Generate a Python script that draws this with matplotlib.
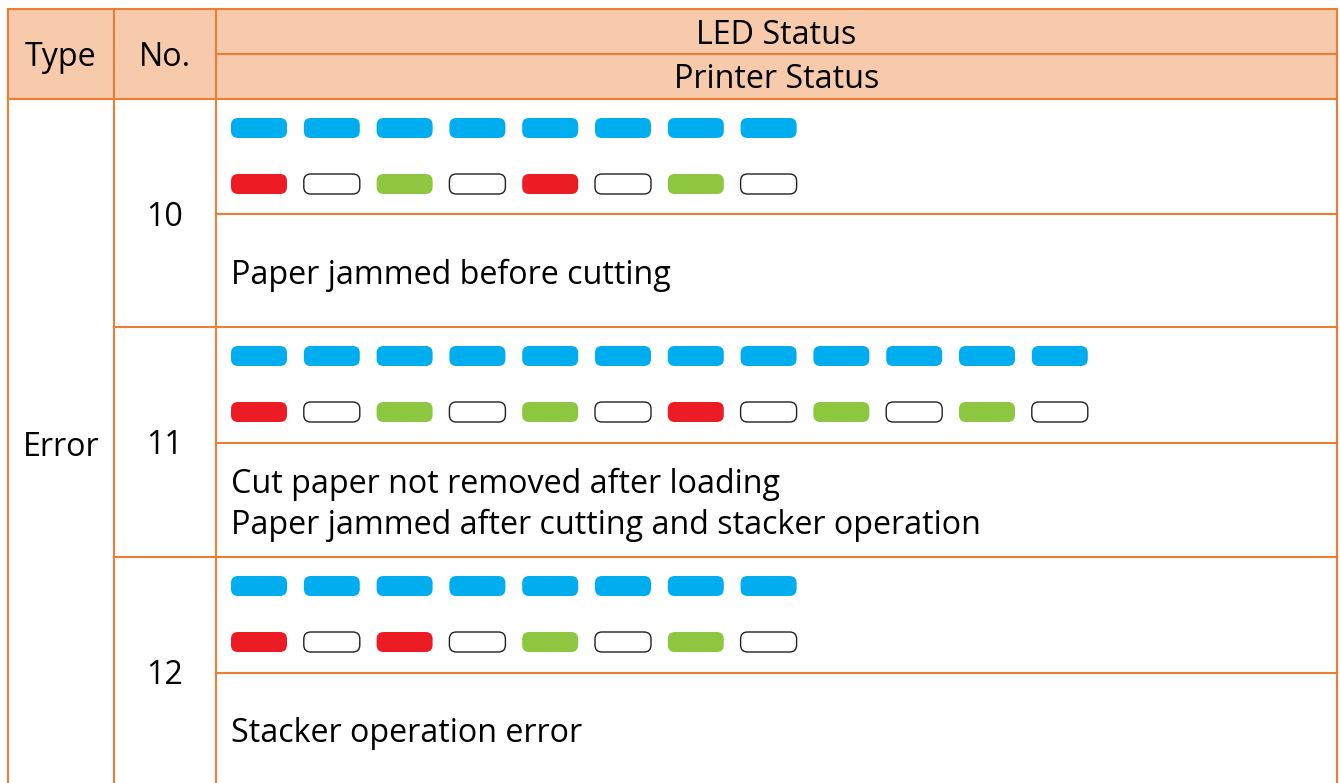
import matplotlib.pyplot as plt
from matplotlib.patches import FancyBboxPatch, Rectangle

plt.rcParams['font.family'] = ['Open Sans', 'DejaVu Sans']

# Table content
headers = ['Type', 'No.', 'LED Status', 'Printer Status']
err_type = 'Error'
err_nos = ['10', '11', '12']
led_patterns = [
    ['red', 'off', 'green', 'off', 'red', 'off', 'green', 'off'],
    ['red', 'off', 'green', 'off', 'green', 'off', 'red', 'off', 'green', 'off', 'green', 'off'],
    ['red', 'off', 'red', 'off', 'green', 'off', 'green', 'off'],
]
status_texts = [
    'Paper jammed before cutting',
    'Cut paper not removed after loading\nPaper jammed after cutting and stacker operation',
    'Stacker operation error',
]

# Layout (pixels)
W, H = 1340, 783
x_left, x_c1, x_c2, x_right = 8, 114, 216, 1337
y_top, y_hmid, y_hbot = 9, 54, 99
row_tops = [99, 327, 557]
row_mids = [214, 443, 673]
no_y = [217, 446, 675]
text_y = [275, 505, 734]
pill_x0, pill_dx, pill_w, pill_h = 231, 72.8, 56, 20

orange = '#ED7D31'
fill_hdr = '#F7CAAC'
colors = {'blue': '#00AEEF', 'red': '#ED1C24', 'green': '#8DC63F'}
lw = 1.5

fig = plt.figure(figsize=(W / 100, H / 100), dpi=100)
ax = fig.add_axes([0, 0, 1, 1])
ax.set_xlim(0, W)
ax.set_ylim(H, 0)
ax.axis('off')

# header background
ax.add_patch(Rectangle((x_left, y_top), x_right - x_left, y_hbot - y_top,
                       facecolor=fill_hdr, edgecolor='none'))


def hline(y, x0, x1):
    ax.plot([x0, x1], [y, y], color=orange, lw=lw, solid_capstyle='projecting')


def vline(x, y0, y1):
    ax.plot([x, x], [y0, y1], color=orange, lw=lw, solid_capstyle='projecting')


hline(y_top, x_left, x_right)
hline(y_hmid, x_c2, x_right)
hline(y_hbot, x_left, x_right)
for i in range(3):
    hline(row_mids[i], x_c2, x_right)
    if i > 0:
        hline(row_tops[i], x_c1, x_right)
for x in (x_left, x_c1, x_c2, x_right):
    vline(x, y_top, H + 5)

fs = 23.2
ax.text((x_left + x_c1) / 2, 57, headers[0], ha='center', va='center', fontsize=fs)
ax.text((x_c1 + x_c2) / 2, 57, headers[1], ha='center', va='center', fontsize=fs)
ax.text((x_c2 + x_right) / 2, 35, headers[2], ha='center', va='center', fontsize=fs)
ax.text((x_c2 + x_right) / 2, 80, headers[3], ha='center', va='center', fontsize=fs)

ax.text((x_left + x_c1) / 2, 447, err_type, ha='center', va='center', fontsize=fs)


def pill(x, yc, color):
    if color == 'off':
        fc, ec, plw = 'white', '#231F20', 1.0
    else:
        fc, ec, plw = colors[color], 'none', 0
    ax.add_patch(FancyBboxPatch((x, yc - pill_h / 2), pill_w, pill_h,
                                boxstyle='round,pad=0,rounding_size=7',
                                facecolor=fc, edgecolor=ec, lw=plw))


for i, pattern in enumerate(led_patterns):
    top = row_tops[i]
    ax.text((x_c1 + x_c2) / 2, no_y[i], err_nos[i], ha='center', va='center', fontsize=fs)
    for j, c in enumerate(pattern):
        x = pill_x0 + j * pill_dx
        pill(x, top + 29, 'blue')
        pill(x, top + 85, c)
    ax.text(x_c2 + 15, text_y[i], status_texts[i], ha='left', va='center', fontsize=fs,
            linespacing=1.33)

fig.savefig('out.png', dpi=100)
